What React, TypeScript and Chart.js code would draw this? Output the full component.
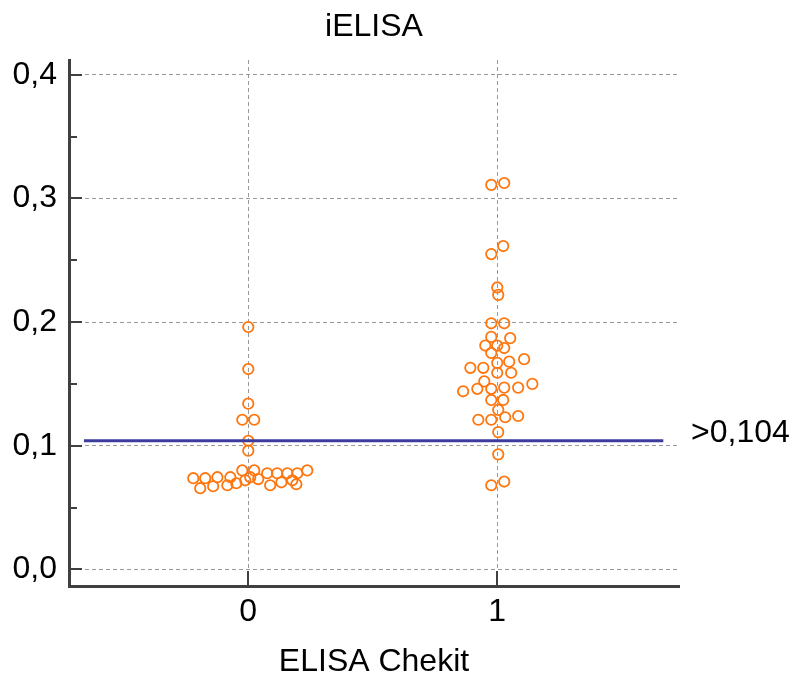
import React, { useEffect, useRef } from 'react';
import { Chart, registerables } from 'chart.js';

Chart.register(...registerables);

const TITLE = 'iELISA';
const X_TITLE = 'ELISA Chekit';
const CATEGORIES = [0, 1];
const Y_TICKS = [0, 0.1, 0.2, 0.3, 0.4];
const Y_MINOR_TICKS = [0.05, 0.15, 0.25, 0.35];
const CUTOFF = 0.104;
const CUTOFF_LABEL = '>0,104';
const CUTOFF_X_RANGE = [-0.66, 1.667];

// Group "0" values and their beeswarm offsets (category units)
const GROUP0_VALUES = [
  0.196, 0.162, 0.134, 0.121, 0.121, 0.104, 0.096,
  0.0737, 0.0656, 0.0737, 0.0672, 0.0745, 0.068, 0.0745, 0.0696, 0.08, 0.072,
  0.08, 0.0745, 0.073, 0.0777, 0.068, 0.0777, 0.0704, 0.0777, 0.072, 0.0777, 0.0688, 0.08,
];
const GROUP0_OFFSETS = [
  0, 0, 0, -0.024, 0.024, 0, 0,
  -0.221, -0.193, -0.173, -0.141, -0.124, -0.084, -0.072, -0.048, -0.024, -0.012,
  0.024, 0.008, 0.04, 0.076, 0.088, 0.116, 0.133, 0.157, 0.177, 0.197, 0.193, 0.237,
];

// Group "1" values and their beeswarm offsets (category units)
const GROUP1_VALUES = [
  0.311, 0.3125, 0.2615, 0.255, 0.228, 0.222, 0.199, 0.199,
  0.188, 0.187, 0.181, 0.181, 0.179, 0.175, 0.167, 0.168, 0.17, 0.163, 0.163, 0.159, 0.159,
  0.152, 0.144, 0.146, 0.146, 0.147, 0.147, 0.15, 0.137, 0.137, 0.129,
  0.121, 0.121, 0.123, 0.124, 0.111, 0.093, 0.068, 0.071,
];
const GROUP1_OFFSETS = [
  -0.024, 0.028, 0.024, -0.024, 0, 0.004, -0.024, 0.028,
  -0.024, 0.052, -0.048, 0, 0.028, -0.024, 0, 0.048, 0.108, -0.108, -0.056, 0, 0.056,
  -0.052, -0.137, -0.08, -0.024, 0.028, 0.084, 0.141, -0.024, 0.024, 0.004,
  -0.076, -0.024, 0.032, 0.084, 0.004, 0.004, -0.024, 0.028,
];

const FONT = 'Liberation Sans, Arial, sans-serif';
const AXIS_COLOR = '#404040';
const GRID_COLOR = '#999999';
const POINT_COLOR = 'rgb(255,118,14)';
const CUTOFF_COLOR = '#3c3c9c';

const decorPlugin = {
  id: 'decor',
  afterDraw(chart: any) {
    const { ctx, chartArea, scales } = chart;
    const x = scales.x;
    const y = scales.y;
    ctx.save();
    ctx.strokeStyle = AXIS_COLOR;
    ctx.lineWidth = 2;
    ctx.beginPath();
    Y_TICKS.forEach((v) => {
      const py = Math.round(y.getPixelForValue(v));
      ctx.moveTo(chartArea.left, py);
      ctx.lineTo(chartArea.left + 13, py);
    });
    Y_MINOR_TICKS.forEach((v) => {
      const py = Math.round(y.getPixelForValue(v));
      ctx.moveTo(chartArea.left, py);
      ctx.lineTo(chartArea.left + 8, py);
    });
    CATEGORIES.forEach((c) => {
      const px = Math.round(x.getPixelForValue(c));
      ctx.moveTo(px, chartArea.bottom);
      ctx.lineTo(px, chartArea.bottom - 15);
    });
    ctx.stroke();

    ctx.fillStyle = '#000';
    ctx.font = `32px ${FONT}`;
    ctx.textAlign = 'left';
    ctx.textBaseline = 'middle';
    ctx.fillText(CUTOFF_LABEL, chartArea.right + 12, y.getPixelForValue(CUTOFF) - 8);
    ctx.restore();
  },
};

export default function App() {
  const ref = useRef<HTMLCanvasElement>(null);
  useEffect(() => {
    if (!ref.current) return;
    const toPoints = (cat: number, vals: number[], offs: number[]) =>
      vals.map((v, i) => ({ x: cat + offs[i], y: v }));
    const pointStyle = {
      type: 'scatter' as const,
      pointRadius: 5.2,
      pointBorderWidth: 1.8,
      borderColor: POINT_COLOR,
      backgroundColor: 'rgba(0,0,0,0)',
      pointBackgroundColor: 'rgba(0,0,0,0)',
      pointBorderColor: POINT_COLOR,
      order: 2,
    };
    const chart = new Chart(ref.current, {
      type: 'scatter',
      data: {
        datasets: [
          {
            type: 'line',
            data: [
              { x: CUTOFF_X_RANGE[0], y: CUTOFF },
              { x: CUTOFF_X_RANGE[1], y: CUTOFF },
            ],
            borderColor: CUTOFF_COLOR,
            borderWidth: 3,
            pointRadius: 0,
            fill: false,
            order: 0,
          } as any,
          { ...pointStyle, data: toPoints(CATEGORIES[0], GROUP0_VALUES, GROUP0_OFFSETS) } as any,
          { ...pointStyle, data: toPoints(CATEGORIES[1], GROUP1_VALUES, GROUP1_OFFSETS) } as any,
        ],
      },
      options: {
        responsive: false,
        animation: false,
        devicePixelRatio: 1,
        layout: { padding: { left: 0, right: 118, top: 0, bottom: 0 } },
        plugins: {
          legend: { display: false },
          tooltip: { enabled: false },
          title: {
            display: true,
            fullSize: false,
            text: TITLE,
            color: '#000',
            font: { family: FONT, size: 32, weight: 'normal', lineHeight: 1.2 },
            padding: { top: 8, bottom: 13.6 },
          },
        },
        scales: {
          x: {
            type: 'linear',
            min: -0.72,
            max: 1.73,
            afterFit(s: any) {
              s.height = 89;
            },
            afterBuildTicks(s: any) {
              s.ticks = CATEGORIES.map((v) => ({ value: v }));
            },
            ticks: {
              padding: 7,
              color: '#000',
              font: { family: FONT, size: 32 },
              callback: (v: any) => String(v),
            },
            grid: { drawTicks: false, color: GRID_COLOR, lineWidth: 1 },
            border: { color: AXIS_COLOR, width: 3, dash: [4, 3] },
            title: {
              display: true,
              text: X_TITLE,
              color: '#000',
              font: { family: FONT, size: 32, lineHeight: 0.8 },
              padding: { top: 0, bottom: 0 },
            },
          },
          y: {
            type: 'linear',
            min: -0.0135,
            max: 0.412,
            afterFit(s: any) {
              s.width = 69;
            },
            afterBuildTicks(s: any) {
              s.ticks = Y_TICKS.map((v) => ({ value: v }));
            },
            ticks: {
              padding: 12,
              color: '#000',
              font: { family: FONT, size: 32 },
              callback: (v: any) => Number(v).toFixed(1).replace('.', ','),
            },
            grid: { drawTicks: false, color: GRID_COLOR, lineWidth: 1 },
            border: { color: AXIS_COLOR, width: 3, dash: [4, 3] },
          },
        },
      } as any,
      plugins: [decorPlugin],
    });
    return () => chart.destroy();
  }, []);
  return (
    <div style={{ position: 'absolute', left: 0, top: 0, width: 797, height: 675, background: '#fff' }}>
      <canvas ref={ref} width={797} height={675} />
    </div>
  );
}
